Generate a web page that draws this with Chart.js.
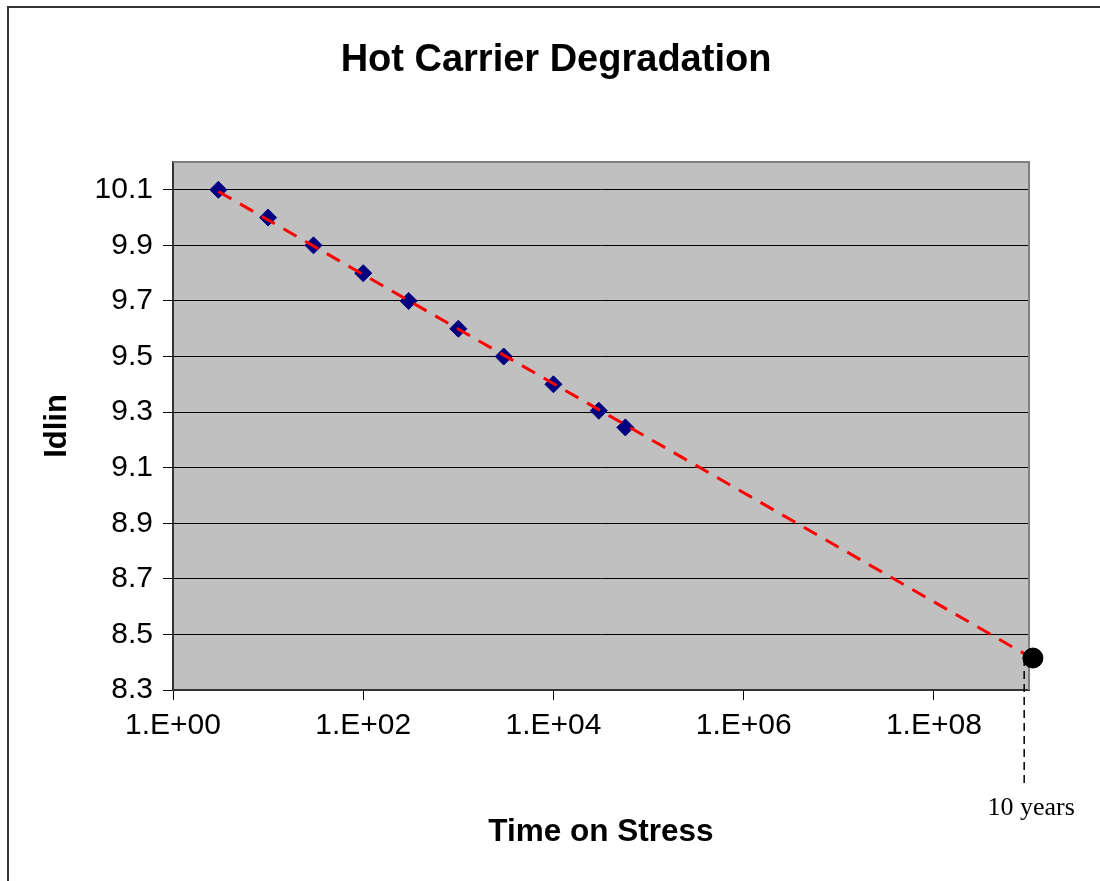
<!DOCTYPE html>
<html>
<head>
<meta charset="utf-8">
<script src="https://cdn.jsdelivr.net/npm/chart.js@4/dist/chart.umd.min.js"></script>
<style>
  html, body { margin: 0; padding: 0; background: #fff; }
  #wrap { width: 1100px; height: 881px; }
</style>
</head>
<body>
<div id="wrap"><canvas id="hcChart" width="1100" height="881"></canvas></div>
<script>
// measured points (time on stress vs Idlin)
const stressTime = [3, 10, 30, 100, 300, 1000, 3000, 10000, 30000, 57000];
const idlin      = [10.1, 10.0, 9.9, 9.8, 9.7, 9.6, 9.5, 9.4, 9.305, 9.245];

// extrapolated trend line (end points)
const trendTime  = [3, 9e8];
const trendIdlin = [10.094, 8.43];

// 10 year point + its drop line
const lifeTime   = [1.1e9];
const lifeIdlin  = [8.415];
const dropTime   = [8.9e8, 8.9e8];
const dropIdlin  = [8.415, 7.965];
const lifeLabel  = "10 years";

const xTickValues = [1, 1e2, 1e4, 1e6, 1e8];
const xTickLabels = ["1.E+00", "1.E+02", "1.E+04", "1.E+06", "1.E+08"];
const yTickValues = [8.3, 8.5, 8.7, 8.9, 9.1, 9.3, 9.5, 9.7, 9.9, 10.1];
const yTickLabels = ["8.3", "8.5", "8.7", "8.9", "9.1", "9.3", "9.5", "9.7", "9.9", "10.1"];

const pts = (xs, ys) => xs.map((x, i) => ({ x, y: ys[i] }));
const FONT = "'Liberation Sans', Arial, sans-serif";

const plotDecor = {
  id: "plotDecor",
  beforeDraw(chart) {
    const { ctx, chartArea: a } = chart;
    ctx.save();
    // outer frame (cut off at right / bottom)
    ctx.strokeStyle = "#333";
    ctx.lineWidth = 2;
    ctx.beginPath();
    ctx.moveTo(8, 881); ctx.lineTo(8, 7); ctx.lineTo(1100, 7);
    ctx.stroke();
    ctx.fillStyle = "#C0C0C0";
    ctx.fillRect(a.left, a.top, a.right - a.left, a.bottom - a.top);
    ctx.restore();
  },
  beforeDatasetsDraw(chart) {
    const { ctx, chartArea: a } = chart;
    ctx.save();
    ctx.strokeStyle = "#808080";
    ctx.lineWidth = 2;
    ctx.beginPath();
    ctx.moveTo(a.left, a.top); ctx.lineTo(a.right, a.top); ctx.lineTo(a.right, a.bottom);
    ctx.stroke();
    ctx.restore();
  },
  afterDraw(chart) {
    const { ctx, scales } = chart;
    const x = scales.x.getPixelForValue(dropTime[1]);
    const y = scales.y.getPixelForValue(dropIdlin[1]);
    ctx.save();
    ctx.fillStyle = "#000";
    ctx.font = "26px 'Liberation Serif', 'Times New Roman', serif";
    ctx.textAlign = "center";
    ctx.textBaseline = "middle";
    ctx.fillText(lifeLabel, x + 7, y + 25);
    ctx.restore();
  }
};

new Chart(document.getElementById("hcChart"), {
  type: "scatter",
  data: {
    datasets: [
      { data: pts(lifeTime, lifeIdlin), pointStyle: "circle", pointRadius: 10,
        backgroundColor: "#000", borderColor: "#000", clip: false, order: 0 },
      { data: pts(trendTime, trendIdlin), showLine: true, pointRadius: 0,
        borderColor: "#FF0000", borderWidth: 3, borderDash: [15, 10], clip: false, order: 1 },
      { data: pts(stressTime, idlin), pointStyle: "rectRot", pointRadius: 8.5,
        backgroundColor: "#000080", borderColor: "#000080", borderWidth: 1, order: 2 },
      { data: pts(dropTime, dropIdlin), showLine: true, pointRadius: 0,
        borderColor: "#000", borderWidth: 1.5, borderDash: [8, 5], clip: false, order: 3 }
    ]
  },
  options: {
    responsive: false,
    animation: false,
    devicePixelRatio: 1,
    layout: { padding: { left: 12, right: 0, top: 0, bottom: 0 } },
    plugins: {
      legend: { display: false },
      tooltip: { enabled: false },
      title: {
        display: true,
        text: "Hot Carrier Degradation",
        color: "#000",
        font: { family: FONT, size: 38, weight: "bold", lineHeight: 1.2 },
        padding: { top: 38, bottom: 78.4 }
      }
    },
    scales: {
      x: {
        type: "logarithmic",
        min: 1, max: 1e9,
        afterBuildTicks: s => { s.ticks = xTickValues.map(v => ({ value: v })); },
        afterFit: s => { s.height = 191; },
        ticks: {
          autoSkip: false, maxRotation: 0, color: "#000", padding: 8,
          font: { family: FONT, size: 30 },
          callback: (v, i) => xTickLabels[i]
        },
        grid: { drawOnChartArea: false, drawTicks: true, tickLength: 10, color: "#000" },
        border: { display: true, color: "#333", width: 2 },
        title: {
          display: true, text: "Time on Stress", color: "#000",
          font: { family: FONT, size: 31.5, weight: "bold", lineHeight: 1.2 },
          padding: { top: 0, bottom: 30 }
        }
      },
      y: {
        min: 8.3, max: 10.2,
        afterBuildTicks: s => { s.ticks = yTickValues.map(v => ({ value: v })); },
        afterFit: s => { s.width = 161; },
        ticks: {
          color: "#000", padding: 10,
          font: { family: FONT, size: 30 },
          callback: (v, i) => yTickLabels[i]
        },
        grid: { color: "#000", lineWidth: 1, tickLength: 10 },
        border: { display: true, color: "#333", width: 2 },
        title: {
          display: true, text: "Idlin", color: "#000",
          font: { family: FONT, size: 31, weight: "bold", lineHeight: 1.2 },
          padding: { top: 27, bottom: 0 }
        }
      },
      // empty right-hand box that keeps the plot's right edge in place
      yPad: {
        position: "right",
        min: 0, max: 1,
        afterFit: s => { s.width = 71; },
        ticks: { display: false },
        grid: { display: false },
        border: { display: false }
      }
    }
  },
  plugins: [plotDecor]
});
</script>
</body>
</html>
